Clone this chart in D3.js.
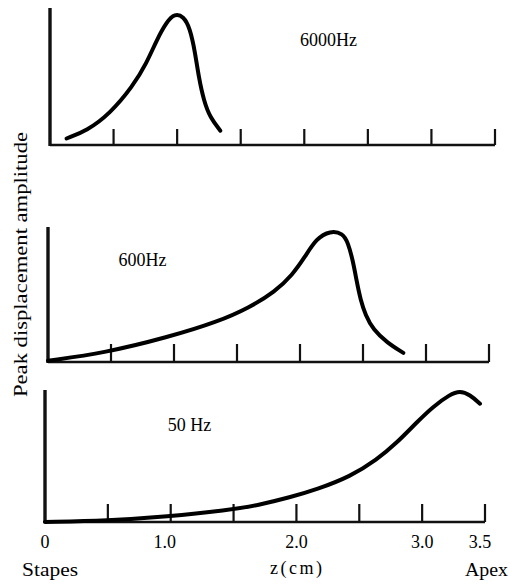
<!DOCTYPE html>
<html>
<head>
<meta charset="utf-8">
<script src="https://cdn.jsdelivr.net/npm/d3@7/dist/d3.min.js"></script>
<style>
  html, body { margin: 0; padding: 0; background: #fff; }
</style>
</head>
<body>
<div id="chart"></div>
<script>
// ------------------------------------------------------------------
// Data (position along cochlea in cm, relative amplitude)
// ------------------------------------------------------------------
var pos6000 = [0.13, 0.29, 0.47, 0.65, 0.76, 0.84, 0.92, 0.98, 1.05, 1.10, 1.14, 1.17, 1.21, 1.26, 1.34];
var amp6000 = [0.05, 0.11, 0.24, 0.45, 0.63, 0.81, 0.95, 1.01, 0.99, 0.90, 0.72, 0.52, 0.34, 0.21, 0.11];

var pos600 = [0.00, 0.45, 0.95, 1.35, 1.60, 1.80, 1.94, 2.04, 2.13, 2.24, 2.34, 2.38, 2.42, 2.45, 2.48, 2.52, 2.58, 2.69, 2.82];
var amp600 = [0.01, 0.07, 0.19, 0.31, 0.42, 0.54, 0.67, 0.81, 0.95, 1.01, 0.99, 0.92, 0.78, 0.62, 0.48, 0.36, 0.25, 0.15, 0.07];

var pos50 = [0.00, 0.50, 0.97, 1.45, 1.70, 1.95, 2.16, 2.43, 2.64, 2.80, 2.96, 3.09, 3.22, 3.30, 3.38, 3.46];
var amp50 = [0.00, 0.01, 0.04, 0.09, 0.13, 0.19, 0.25, 0.35, 0.48, 0.61, 0.77, 0.89, 0.98, 1.01, 0.98, 0.91];

var freqLabels = ["6000Hz", "600Hz", "50 Hz"];
var tickValues = [0.5, 1.0, 1.5, 2.0, 2.5, 3.0, 3.5];
var tickLabelValues = [0, 1.0, 2.0, 3.0, 3.5];
var tickLabelTexts = ["0", "1.0", "2.0", "3.0", "3.5"];
var yTitle = "Peak displacement amplitude";
var xTitle = "z(cm)";
var leftEnd = "Stapes", rightEnd = "Apex";

var serif = "'Liberation Serif', 'Times New Roman', 'DejaVu Serif', serif";

// ------------------------------------------------------------------
// Layout (hand drawn figure, each panel sits a little differently)
// ------------------------------------------------------------------
var width = 518, height = 586;
var panels = [
    { pos: pos6000, amp: amp6000, x0: 50, x1: 495, base: 145, top: 8,   tickH: 16, label: freqLabels[0], lx: 2.19, ly: 0.76 },
    { pos: pos600,  amp: amp600,  x0: 48, x1: 489, base: 362, top: 227, tickH: 18, label: freqLabels[1], lx: 0.75, ly: 0.74 },
    { pos: pos50,   amp: amp50,   x0: 45, x1: 485, base: 522, top: 390, tickH: 18, label: freqLabels[2], lx: 1.15, ly: 0.70 }
];

var svg = d3.select("#chart").append("svg")
    .attr("width", width).attr("height", height);

panels.forEach(function(p) {
    var x = d3.scaleLinear().domain([0, 3.5]).range([p.x0, p.x1]);
    var y = d3.scaleLinear().domain([0, 1]).range([p.base, p.base - 130]);
    p.x = x;

    var g = svg.append("g");

    // baseline
    g.append("line")
        .attr("x1", x(0)).attr("x2", x(3.5))
        .attr("y1", y(0)).attr("y2", y(0))
        .attr("stroke", "#111").attr("stroke-width", 2.6);

    // vertical axis
    g.append("line")
        .attr("x1", x(0)).attr("x2", x(0))
        .attr("y1", y(0) + 1).attr("y2", p.top)
        .attr("stroke", "#111").attr("stroke-width", 3.4);

    // ticks
    g.selectAll(".tick").data(tickValues).enter().append("line")
        .attr("x1", function(d) { return x(d); })
        .attr("x2", function(d) { return x(d); })
        .attr("y1", y(0))
        .attr("y2", y(0) - p.tickH)
        .attr("stroke", "#111").attr("stroke-width", 2.2);

    // curve
    var pts = p.pos.map(function(d, i) { return [d, p.amp[i]]; });
    var line = d3.line()
        .x(function(d) { return x(d[0]); })
        .y(function(d) { return y(d[1]); })
        .curve(d3.curveBasis);
    g.append("path")
        .attr("d", line(pts))
        .attr("fill", "none")
        .attr("stroke", "#000")
        .attr("stroke-width", 4)
        .attr("stroke-linecap", "round");

    // frequency label
    g.append("text")
        .attr("x", x(p.lx)).attr("y", y(p.ly))
        .attr("text-anchor", "middle")
        .attr("font-family", serif)
        .attr("font-size", 18)
        .text(p.label);
});

// ------------------------------------------------------------------
// Bottom axis labels
// ------------------------------------------------------------------
var xb = panels[2].x;
svg.selectAll(".tl").data(tickLabelValues).enter().append("text")
    .attr("x", function(d) { return xb(d) - (d === 1 ? 6 : d === 3.5 ? 5 : 0); })
    .attr("y", 548)
    .attr("text-anchor", "middle")
    .attr("font-family", serif)
    .attr("font-size", 18)
    .text(function(d, i) { return tickLabelTexts[i]; });

svg.append("text")
    .attr("x", 22).attr("y", 576)
    .attr("textLength", 56).attr("lengthAdjust", "spacingAndGlyphs")
    .attr("font-family", serif)
    .attr("font-size", 19)
    .text(leftEnd);

svg.append("text")
    .attr("x", 270).attr("y", 574)
    .attr("textLength", 52).attr("lengthAdjust", "spacing")
    .attr("font-family", serif)
    .attr("font-size", 18)
    .text(xTitle);

svg.append("text")
    .attr("x", 465).attr("y", 576)
    .attr("textLength", 43).attr("lengthAdjust", "spacingAndGlyphs")
    .attr("font-family", serif)
    .attr("font-size", 19)
    .text(rightEnd);

// rotated y title
svg.append("text")
    .attr("transform", "translate(27,397) rotate(-90)")
    .attr("x", 0).attr("y", 0)
    .attr("textLength", 265).attr("lengthAdjust", "spacingAndGlyphs")
    .attr("font-family", serif)
    .attr("font-size", 18)
    .text(yTitle);
</script>
</body>
</html>
